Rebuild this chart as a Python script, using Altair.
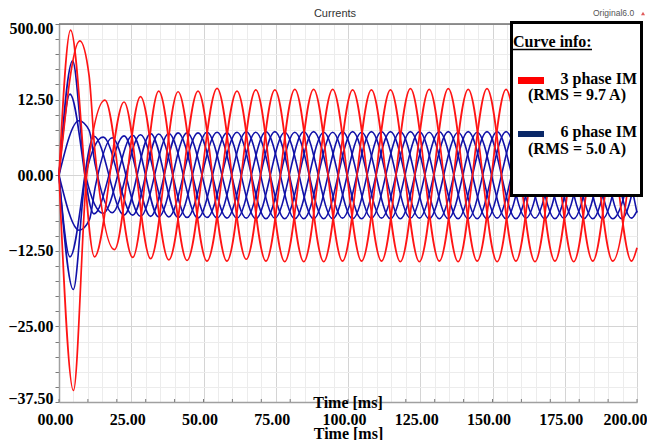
import altair as alt
import pandas as pd

# ---------------- data ----------------
# time (ms) of steady-state extrema, per phase group
T_X = [28.2, 38.0, 48.1, 58.1, 68.1, 78.1, 88.1, 98.1, 108.1, 118.1, 128.1, 138.1,
       148.1, 158.1, 168.1, 178.1, 188.1, 198.1]
T_Y = [25.5, 34.5, 44.3, 54.7, 64.8, 74.7, 84.7, 94.7, 104.7, 114.7, 124.7, 134.7,
       144.7, 154.7, 164.7, 174.7, 184.7, 194.7]
T_Z = [22.5, 31.7, 41.2, 51.2, 61.6, 71.6, 81.6, 91.6, 101.6, 111.6, 121.6, 131.6,
       141.6, 151.6, 161.6, 171.6, 181.6, 191.6]
T_END = 200.0

# 3 phase IM (red) - start-up points and steady extrema
RA_T0 = [0.0, 7.2, 10.4, 12.4, 19.2]
RA_V0 = [0.0, 22.2, 16.5, 4.1, -12.3]
RA = [13.0, -14.0, 13.9, -14.2, 14.1, -14.3, 14.2, -14.2, 14.1, -14.3, 14.2, -14.3,
      14.3, -14.2, 14.2, -14.3, 14.2, -14.2]
RA_END = -12.0

RB_T0 = [0.0, 5.0, 9.6, 15.9]
RB_V0 = [0.0, -35.6, 0.0, 12.4]
RB = [-13.6, 13.9, -14.1, 14.35, -13.9, 14.1, -14.3, 14.2, -14.2, 14.1, -14.3, 14.3,
      -14.2, 14.2, -14.3, 14.1, -14.2, 14.3]
RB_END = -1.4

RC_T0 = [0.0, 4.0, 12.3]
RC_V0 = [0.0, 24.0, -13.5]
RC = [12.1, -13.8, 13.8, -14.2, 13.9, -14.2, 14.2, -14.3, 14.1, -14.2, 14.3, -14.2,
      14.2, -14.3, 14.1, -14.2, 14.3, -14.2]
RC_END = 12.5

# 6 phase IM (blue)
B1_T0 = [0.0, 6.9, 10.4, 12.5, 18.4]
B1_V0 = [0.0, 9.0, 7.45, 1.8, -6.2]
B1 = [6.7, -6.9, 7.0, -7.1, 7.1, -7.2, 7.2, -7.1, 7.2, -7.2, 7.1, -7.2,
      7.2, -7.2, 7.1, -7.2, 7.2, -7.1]
B1_END = -5.9

B4_T0 = [0.0, 7.0, 10.5, 12.6, 18.4]
B4_V0 = [0.0, -9.1, -7.4, -1.8, 6.2]
B4 = [-6.8, 6.9, -7.1, 7.0, -7.2, 7.1, -7.2, 7.2, -7.1, 7.2, -7.2, 7.1,
      -7.2, 7.2, -7.2, 7.1, -7.2, 7.2]
B4_END = 6.0

B2_T0 = [0.0, 4.95, 9.2, 15.3]
B2_V0 = [0.0, -18.9, 0.0, 6.3]
B2 = [-6.6, 6.8, -7.0, 7.1, -7.1, 7.2, -7.2, 7.1, -7.2, 7.2, -7.1, 7.2,
      -7.2, 7.2, -7.1, 7.2, -7.2, 7.1]
B2_END = -0.7

B5_T0 = [0.0, 4.7, 9.2, 15.3]
B5_V0 = [0.0, 18.9, 0.0, -6.3]
B5 = [6.6, -6.9, 7.0, -7.1, 7.2, -7.1, 7.2, -7.2, 7.1, -7.2, 7.2, -7.2,
      7.1, -7.2, 7.2, -7.1, 7.2, -7.2]
B5_END = 0.7

B3_T0 = [0.0, 3.8, 12.1]
B3_V0 = [0.0, 13.4, -6.4]
B3 = [6.5, -6.8, 7.0, -7.0, 7.1, -7.2, 7.1, -7.2, 7.2, -7.1, 7.2, -7.2,
      7.2, -7.1, 7.2, -7.2, 7.1, -7.2]
B3_END = 6.3

B6_T0 = [0.0, 3.8, 12.1]
B6_V0 = [0.0, -13.5, 6.45]
B6 = [-6.6, 6.9, -7.0, 7.1, -7.1, 7.2, -7.2, 7.1, -7.2, 7.2, -7.1, 7.2,
      -7.2, 7.2, -7.1, 7.2, -7.2, 7.1]
B6_END = -6.2

X_TICKS = [0, 25, 50, 75, 100, 125, 150, 175, 200]
Y_TICKS = [-37.5, -25.0, -12.5, 0.0, 12.5, 25.0]
X_MINOR = [i * 5 for i in range(41)]
Y_MINOR = [-37.5 + i * 2.5 for i in range(26)]
X_SMALL_TICKS = [i * 10 for i in range(21)]

curves = [
    ("3 phase IM", "ra", RA_T0, RA_V0, T_X, RA, RA_END),
    ("3 phase IM", "rb", RB_T0, RB_V0, T_Y, RB, RB_END),
    ("3 phase IM", "rc", RC_T0, RC_V0, T_Z, RC, RC_END),
    ("6 phase IM", "b1", B1_T0, B1_V0, T_X, B1, B1_END),
    ("6 phase IM", "b4", B4_T0, B4_V0, T_X, B4, B4_END),
    ("6 phase IM", "b2", B2_T0, B2_V0, T_Y, B2, B2_END),
    ("6 phase IM", "b5", B5_T0, B5_V0, T_Y, B5, B5_END),
    ("6 phase IM", "b3", B3_T0, B3_V0, T_Z, B3, B3_END),
    ("6 phase IM", "b6", B6_T0, B6_V0, T_Z, B6, B6_END),
]

rows = []
for grp, name, t0, v0, ts, vs, vend in curves:
    for t, v in zip(t0, v0):
        rows.append((grp, name, t, v))
    for t, v in zip(ts, vs):
        rows.append((grp, name, t, v))
    rows.append((grp, name, T_END, vend))
df = pd.DataFrame(rows, columns=["group", "curve", "t", "i"])

W, H = 578, 378
SERIF = "Liberation Serif"
SANS = "Liberation Sans"

x_axis = alt.Axis(
    values=X_MINOR,
    labelExpr="datum.value % 25 === 0 ? format(datum.value, '05.2f') : ''",
    labelFont=SERIF, labelFontSize=16, labelFontWeight="bold", labelColor="black",
    labelFlush=False, labelOverlap=False, labelPadding=9,
    labelOffset={"condition": {"test": "datum.value === 200", "value": -12}, "value": -4},
    ticks=False,
    grid=True,
    gridColor={"condition": {"test": "datum.value % 25 === 0", "value": "#d4d4d4"},
               "value": "#ececec"},
    gridWidth=1,
    domainColor="#a0a0a0", domainWidth=1.5,
    title="Time [ms]", titleFont=SERIF, titleFontSize=16, titleFontWeight="bold",
    titleColor="black", titleBaseline="alphabetic", titleY=36, titleX=W / 2,
)
y_axis = alt.Axis(
    values=Y_MINOR,
    labelExpr="datum.value === 25 ? '500.00' : (datum.value % 12.5 === 0 ? format(datum.value, '05.2f') : '')",
    labelFont=SERIF, labelFontSize=16, labelFontWeight="bold", labelColor="black",
    labelFlush=True, labelFlushOffset=4, labelOverlap=False, labelPadding=2,
    tickSize=4, tickColor="#7a7a7a",
    grid=True,
    gridColor={"condition": {"test": "datum.value % 12.5 === 0", "value": "#d4d4d4"},
               "value": "#ececec"},
    gridWidth=1,
    domainColor="#a0a0a0", domainWidth=1.5,
    title=None,
)

xs = alt.Scale(domain=[0, 200], nice=False, zero=False)
ys = alt.Scale(domain=[-37.5, 25], nice=False, zero=False)

base = alt.Chart(df).encode(
    x=alt.X("t:Q", scale=xs, axis=x_axis),
    y=alt.Y("i:Q", scale=ys, axis=y_axis),
    detail="curve:N",
)

blue = base.transform_filter(alt.datum.group == "6 phase IM").mark_line(
    interpolate="monotone", color="#1111a8", strokeWidth=1.6)
red = base.transform_filter(alt.datum.group == "3 phase IM").mark_line(
    interpolate="monotone", color="#ff1414", strokeWidth=1.7)

ticks = alt.Chart(pd.DataFrame({"t": X_SMALL_TICKS})).mark_rule(
    color="#7a7a7a", strokeWidth=1).encode(
    x=alt.X("t:Q", scale=xs, axis=x_axis), y=alt.value(H - 3), y2=alt.value(H))

one = pd.DataFrame({"k": [0]})
top_rule = alt.Chart(one).mark_rule(color="#707070", strokeWidth=1.5).encode(
    x=alt.value(0), x2=alt.value(W), y=alt.value(0))

box = alt.Chart(one).mark_rect(fill="white", stroke="black", strokeWidth=3).encode(
    x=alt.value(452.5), x2=alt.value(582.5), y=alt.value(-1.5), y2=alt.value(171.5))

def txt(s, x, y, size=16, align="left", font=SERIF, weight="bold", color="black"):
    return alt.Chart(one).mark_text(
        text=s, align=align, baseline="alphabetic", font=font, fontSize=size,
        fontWeight=weight, color=color).encode(x=alt.value(x), y=alt.value(y))

legend_title = txt("Curve info:", 454, 23)
underline = alt.Chart(one).mark_rule(color="black", strokeWidth=1.3).encode(
    x=alt.value(454), x2=alt.value(533), y=alt.value(25.5))
sw_red = alt.Chart(one).mark_rect(fill="#ff0000").encode(
    x=alt.value(459), x2=alt.value(485), y=alt.value(53), y2=alt.value(60))
sw_blue = alt.Chart(one).mark_rect(fill="#0a2868").encode(
    x=alt.value(459), x2=alt.value(485), y=alt.value(107), y2=alt.value(113))
l1 = txt("3 phase IM", 578, 60, align="right")
l2 = txt("(RMS = 9.7 A)", 518, 76, align="center")
l3 = txt("6 phase IM", 578, 113, align="right")
l4 = txt("(RMS = 5.0 A)", 518, 130, align="center")

title = txt("Currents", 276, -7, size=11, align="center", font=SANS, weight="normal",
            color="#333333")
orig = txt("Original6.0", 534, -8, size=8.5, font=SANS, weight="normal", color="#555555")
tri = alt.Chart(one).mark_point(shape="triangle-up", filled=True, size=16,
                                color="#e05a5a", opacity=1).encode(
    x=alt.value(584), y=alt.value(-10.5))
time_top = txt("Time [ms]", W / 2, 383.5, align="center")

chart = alt.layer(
    blue, red, ticks, top_rule, box, legend_title, underline, sw_red, sw_blue,
    l1, l2, l3, l4, title, orig, tri, time_top,
).properties(
    width=W, height=H,
    autosize=alt.AutoSizeParams(type="none"),
    padding={"left": 51, "top": 16, "right": 10, "bottom": 38},
    background="white",
).configure_view(stroke="#8c8c8c", strokeWidth=1)

chart.save("out.html", embed_options={"renderer": "svg", "actions": False})
